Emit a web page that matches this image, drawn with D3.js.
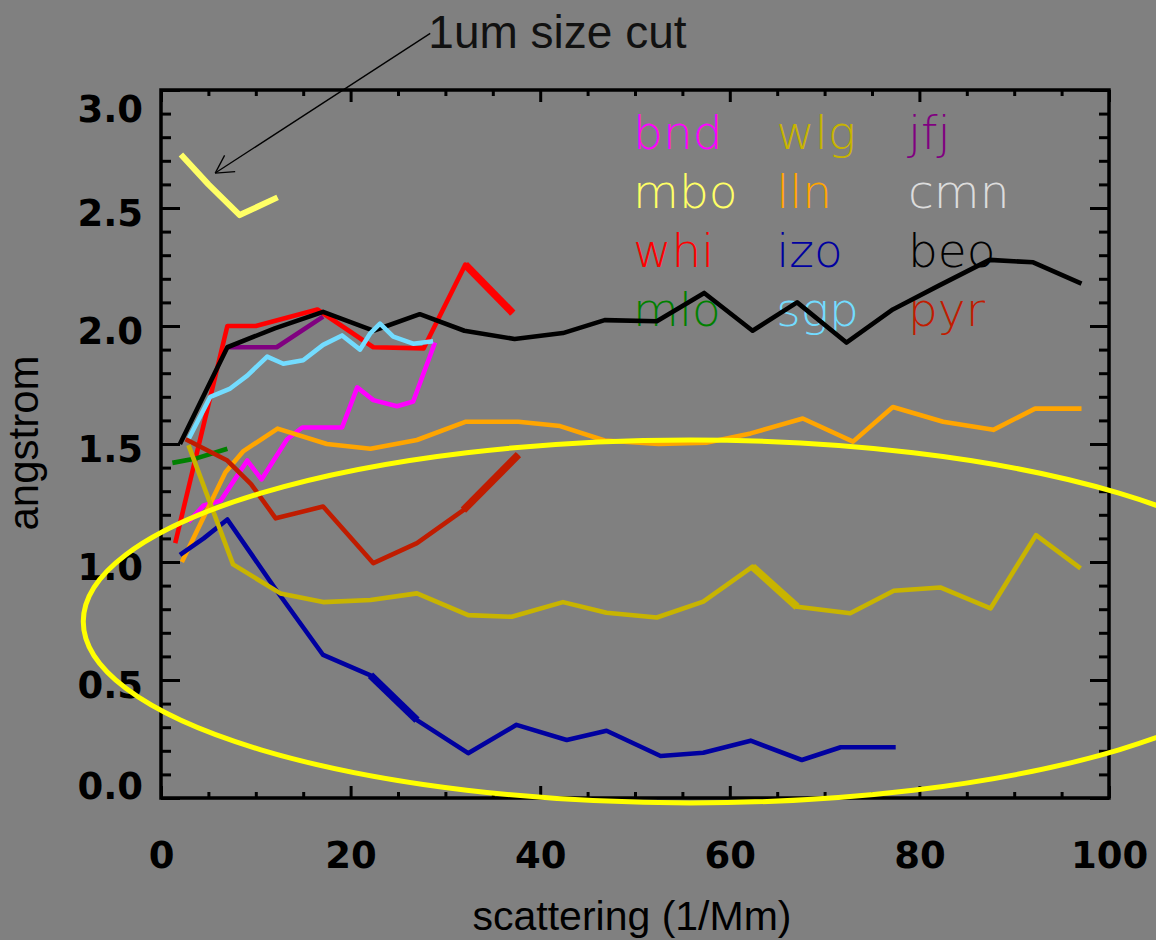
<!DOCTYPE html>
<html>
<head>
<meta charset="utf-8">
<script src="https://cdn.jsdelivr.net/npm/d3@7"></script>
<style>
  html, body { margin: 0; padding: 0; background: #808080; }
  svg { display: block; }
</style>
</head>
<body>
<svg id="chart" width="1156" height="940"></svg>
<script>
// ---------------- DATA ----------------
const xTickValues = [0, 20, 40, 60, 80, 100];
const xTickLabels = ["0", "20", "40", "60", "80", "100"];
const yTickValues = [0, 0.5, 1.0, 1.5, 2.0, 2.5, 3.0];
const yTickLabels = ["0.0", "0.5", "1.0", "1.5", "2.0", "2.5", "3.0"];

const stationNames = ["bnd", "wlg", "jfj", "mbo", "lln", "cmn", "whi", "izo", "beo", "mlo", "sgp", "pyr"];
const stationColors = ["#ff00ff", "#c8b400", "#800080", "#ffff66", "#ffa500", "#dcdcdc",
                       "#ff0000", "#0000a0", "#000000", "#008000", "#73dcff", "#c01c00"];

// [scattering (1/Mm), angstrom]
const bnd = [[2.9,1.17],[4.5,1.24],[6.3,1.26],[9.1,1.43],[10.6,1.35],[13.3,1.52],[14.9,1.57],
             [19.1,1.57],[20.7,1.74],[22.4,1.686],[24.9,1.66],[26.6,1.68],[28.9,1.93]];
const wlg = [[2.9,1.495],[7.6,0.99],[12.6,0.867],[17.1,0.83],[22.1,0.839],[27,0.867],[32.4,0.775],
             [37,0.768],[42.4,0.83],[47,0.785],[52.3,0.765],[57.2,0.832],[62.4,0.98],[67.1,0.81],
             [72.7,0.783],[77.3,0.878],[82.2,0.892],[87.5,0.803],[92.3,1.114],[97,0.973]];
const jfj = [[7,1.91],[12.2,1.91],[17.1,2.04]];
const mbo = [[2.1,2.727],[5,2.6],[8.3,2.47],[12.3,2.545]];
const lln = [[2.2,1.0],[6.8,1.38],[8.7,1.47],[12.3,1.565],[17.5,1.50],[22.1,1.48],[27,1.517],
             [32.1,1.594],[37.7,1.594],[42.1,1.576],[46.8,1.515],[52.5,1.50],[57.5,1.505],
             [62.2,1.545],[67.7,1.608],[73,1.51],[77.2,1.657],[82.5,1.594],[87.8,1.56],
             [92.2,1.65],[97.1,1.65]];
const cmn = [];
const whi = [[1.5,1.08],[7,2.0],[10,2.0],[16.5,2.07],[22.4,1.91],[27.7,1.905],[32.1,2.26],[37.1,2.055]];
const izo = [[2,1.03],[4.5,1.10],[7,1.18],[12,0.89],[17.1,0.606],[22.1,0.52],[27,0.33],[32.4,0.19],
             [37.5,0.31],[42.8,0.246],[47,0.285],[52.7,0.178],[57.2,0.192],[62.2,0.243],
             [67.6,0.161],[71.7,0.215],[77.5,0.215]];
const beo = [[2,1.5],[7,1.91],[12,1.99],[17.1,2.06],[22.4,1.98],[27.3,2.05],[32,1.98],[37.3,1.945],
             [42.4,1.97],[46.8,2.025],[52.3,2.02],[57.3,2.14],[62.4,1.98],[67.1,2.10],[72.3,1.93],
             [77.2,2.07],[82,2.17],[87.4,2.28],[92,2.27],[97.1,2.18]];
const mlo = [[1.2,1.42],[3.8,1.44],[7,1.48]];
const sgp = [[2.9,1.52],[5.2,1.70],[7.3,1.735],[9.1,1.79],[11.2,1.87],[12.9,1.84],[15,1.855],
             [17.1,1.92],[19.1,1.96],[21,1.90],[22.1,1.97],[23.1,2.01],[24.5,1.955],[26.6,1.925],
             [28.7,1.935]];
const pyr = [[2.6,1.52],[7,1.43],[9.5,1.33],[12.1,1.185],[17.1,1.235],[22.4,0.995],[27,1.08],
             [31.9,1.22],[37.7,1.455]];

const seriesByName = { bnd, wlg, jfj, mbo, lln, cmn, whi, izo, beo, mlo, sgp, pyr };
const drawOrder = ["bnd", "jfj", "mbo", "lln", "whi", "izo", "beo", "mlo", "sgp", "pyr", "wlg"];
// segments that the original plot renders heavier: [station, segment start index]
const heavySegments = [["whi", 6], ["pyr", 7], ["izo", 5], ["wlg", 12]];

// ---------------- LAYOUT ----------------
const W = 1156, H = 940;
const plot = { left: 161, right: 1109, top: 90, bottom: 798 };
const svg = d3.select("#chart");

const x = d3.scaleLinear().domain([0, 100]).range([plot.left, plot.right]);
const y = d3.scaleLinear().domain([0, 3]).range([plot.bottom, plot.top]);

svg.append("rect").attr("width", W).attr("height", H).attr("fill", "#808080");

const tickFont = "'DejaVu Sans', sans-serif";
const titleFont = "'Liberation Sans', Arial, sans-serif";

// ---------------- LEGEND (drawn beneath the lines) ----------------
const legendCols = [49.8, 64.9, 78.8];
const legendRows = [2.75, 2.5, 2.25, 2.0];
svg.append("g").selectAll("text").data(stationNames).join("text")
  .attr("x", (d, i) => x(legendCols[i % 3]))
  .attr("y", (d, i) => y(legendRows[Math.floor(i / 3)]))
  .attr("fill", (d, i) => stationColors[i])
  .style("font-family", "'DejaVu Sans', sans-serif")
  .style("font-weight", 200)
  .style("font-size", "47px")
  .text(d => d);

// ---------------- SERIES ----------------
const line = d3.line().x(d => x(d[0])).y(d => y(d[1]));
const gLines = svg.append("g");
drawOrder.forEach(name => {
  const data = seriesByName[name];
  if (!data.length) return;
  const ci = stationNames.indexOf(name);
  gLines.append("path")
    .datum(data)
    .attr("d", line)
    .attr("fill", "none")
    .attr("stroke", stationColors[ci])
    .attr("stroke-width", name === "mbo" ? 6 : 4.6)
    .attr("stroke-linejoin", "round")
    .attr("stroke-linecap", "butt");
  heavySegments.filter(h => h[0] === name).forEach(h => {
    gLines.append("path")
      .datum(data.slice(h[1], h[1] + 2))
      .attr("d", line)
      .attr("fill", "none")
      .attr("stroke", stationColors[ci])
      .attr("stroke-width", 7.5)
      .attr("stroke-linecap", "butt");
  });
});

// ---------------- AXES ----------------
function styleAxis(g) {
  g.select(".domain").remove();
  g.selectAll(".tick line").attr("stroke", "#000").attr("stroke-width", 3);
}
const minorX = d3.range(5, 100, 5).filter(v => v % 20 !== 0);
const minorY = d3.range(1, 30).map(v => v / 10).filter((v, i) => (i + 1) % 5 !== 0);

// bottom
const gB = svg.append("g").attr("transform", `translate(0,${plot.bottom})`)
  .call(d3.axisBottom(x).tickValues(xTickValues).tickSize(-12).tickPadding(0)
        .tickFormat((d, i) => xTickLabels[i]));
styleAxis(gB);
gB.selectAll(".tick text")
  .attr("y", 70).attr("dy", 0)
  .attr("fill", "#000")
  .style("font-family", tickFont).style("font-weight", "bold").style("font-size", "37px");
styleAxis(svg.append("g").attr("transform", `translate(0,${plot.bottom})`)
  .call(d3.axisBottom(x).tickValues(minorX).tickSize(-6).tickFormat("")));

// top
styleAxis(svg.append("g").attr("transform", `translate(0,${plot.top})`)
  .call(d3.axisTop(x).tickValues(xTickValues).tickSize(-12).tickFormat("")));
styleAxis(svg.append("g").attr("transform", `translate(0,${plot.top})`)
  .call(d3.axisTop(x).tickValues(minorX).tickSize(-6).tickFormat("")));

// left
const gL = svg.append("g").attr("transform", `translate(${plot.left},0)`)
  .call(d3.axisLeft(y).tickValues(yTickValues).tickSize(-19).tickPadding(18)
        .tickFormat((d, i) => yTickLabels[i]));
styleAxis(gL);
gL.selectAll(".tick text")
  .attr("dy", 0)
  .attr("y", d => d === 0 ? 0 : (d === 3 ? 31 : 17))
  .attr("fill", "#000")
  .style("font-family", tickFont).style("font-weight", "bold").style("font-size", "37px");
styleAxis(svg.append("g").attr("transform", `translate(${plot.left},0)`)
  .call(d3.axisLeft(y).tickValues(minorY).tickSize(-10).tickFormat("")));

// right
styleAxis(svg.append("g").attr("transform", `translate(${plot.right},0)`)
  .call(d3.axisRight(y).tickValues(yTickValues).tickSize(-19).tickFormat("")));
styleAxis(svg.append("g").attr("transform", `translate(${plot.right},0)`)
  .call(d3.axisRight(y).tickValues(minorY).tickSize(-10).tickFormat("")));

// frame
svg.append("rect")
  .attr("x", plot.left).attr("y", plot.top)
  .attr("width", plot.right - plot.left).attr("height", plot.bottom - plot.top)
  .attr("fill", "none").attr("stroke", "#000").attr("stroke-width", 3.5);

// titles
svg.append("text")
  .attr("x", (plot.left + plot.right) / 2 - 3).attr("y", 930)
  .attr("text-anchor", "middle").attr("fill", "#000")
  .style("font-family", titleFont).style("font-size", "41px")
  .text("scattering (1/Mm)");
svg.append("text")
  .attr("transform", `translate(38,443) rotate(-90)`)
  .attr("text-anchor", "middle").attr("fill", "#000")
  .style("font-family", titleFont).style("font-size", "42px")
  .text("angstrom");

// ---------------- ANNOTATIONS ----------------
// ellipse highlighting the low-angstrom stations (data coordinates)
const ell = { cx: 55.8, cy: 0.748, rx: 64.0, ry: 0.769 };
svg.append("ellipse")
  .attr("cx", x(ell.cx)).attr("cy", y(ell.cy))
  .attr("rx", x(ell.cx + ell.rx) - x(ell.cx))
  .attr("ry", y(ell.cy - ell.ry) - y(ell.cy))
  .attr("fill", "none").attr("stroke", "#ffff00").attr("stroke-width", 5);

// arrow "1um size cut"
const arrowTip = [5.72, 2.648], arrowTail = [28.4, 3.24];
const tx = x(arrowTip[0]), ty = y(arrowTip[1]);
const sx = x(arrowTail[0]), sy = y(arrowTail[1]);
svg.append("line").attr("x1", sx).attr("y1", sy).attr("x2", tx).attr("y2", ty)
  .attr("stroke", "#000").attr("stroke-width", 1.3);
const ang = Math.atan2(sy - ty, sx - tx);
const headLen = 20, headSpread = 29 * Math.PI / 180;
[-1, 1].forEach(s => {
  svg.append("line")
    .attr("x1", tx).attr("y1", ty)
    .attr("x2", tx + headLen * Math.cos(ang + s * headSpread))
    .attr("y2", ty + headLen * Math.sin(ang + s * headSpread))
    .attr("stroke", "#000").attr("stroke-width", 1.3);
});
svg.append("text")
  .attr("x", x(28.2)).attr("y", y(3.178))
  .attr("fill", "#111")
  .style("font-family", titleFont).style("font-size", "46px")
  .text("1um size cut");
</script>
</body>
</html>
